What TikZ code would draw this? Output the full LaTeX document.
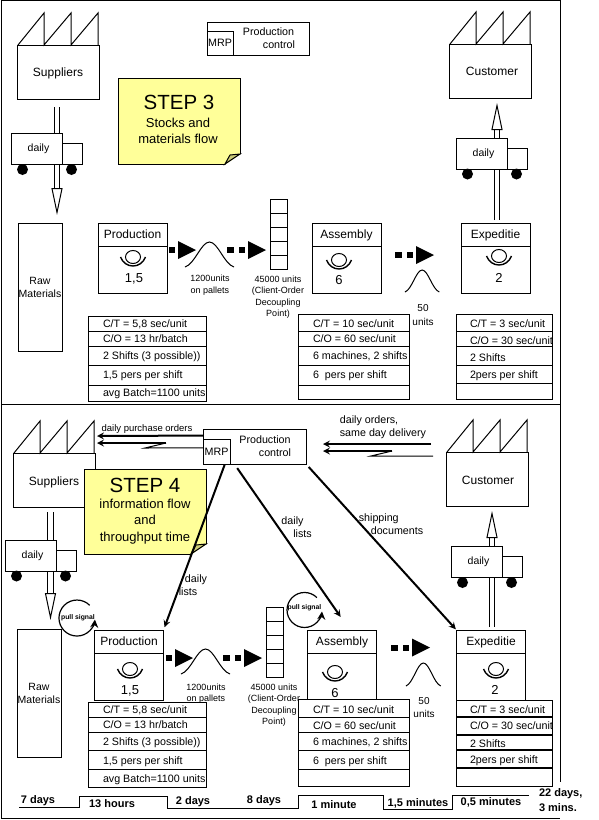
\documentclass[tikz,border=0pt]{standalone}
\usepackage{fontspec}
\setmainfont{Liberation Sans}
\usetikzlibrary{arrows.meta}
\definecolor{noteyellow}{HTML}{FFFF99}
\definecolor{notefoldc}{HTML}{CCCC77}
\begin{document}
\begin{tikzpicture}[x=1pt,y=-1pt,line width=1pt,>=stealth,
  every node/.style={inner sep=0pt,outer sep=0pt,font=\fontsize{12}{14}\selectfont},
  boxname/.style={text height=11pt,text depth=2.5pt},
  factorybox/.style={draw,fill=white,minimum width=82pt,minimum height=54pt},
  rawbox/.style={draw,fill=white,minimum width=44pt,minimum height=128pt,align=center,font=\fontsize{10.5}{13}\selectfont},
  truckbox/.style={draw,fill=white,minimum width=51pt,minimum height=31pt,font=\fontsize{10.5}{13}\selectfont,execute at begin node=\hspace*{3pt}},
  proctitle/.style={draw,fill=white,boxname,minimum width=69pt,minimum height=23pt},
  procbody/.style={draw,fill=white,minimum width=69pt,minimum height=47pt},
  procnum/.style={font=\fontsize{13}{15}\selectfont},
  smalltext/.style={align=center,font=\fontsize{9}{11.5}\selectfont},
  rowtext/.style={anchor=west,text height=10.5pt,text depth=2.5pt,font=\fontsize{10.7}{13}\selectfont},
  mrptext/.style={font=\fontsize{10.7}{13}\selectfont},
  notebox/.style={draw,fill=noteyellow},
  steptitle/.style={font=\fontsize{20.5}{24}\selectfont},
  steptext/.style={align=center,font=\fontsize{13}{16.3}\selectfont},
  flowtext/.style={align=left,font=\fontsize{10.7}{13}\selectfont},
  timetext/.style={font=\fontsize{11}{14}\selectfont\bfseries},
  pulltext/.style={font=\fontsize{6.8}{8}\selectfont\bfseries},
  hollow/.style={double,double distance=4.5pt,line width=1pt,-{Triangle[fill=white,line width=1pt,length=27pt,width=11pt]}},
  infoline/.style={->,line width=2pt},
  pullarrow/.style={-{Stealth[length=8pt,width=8pt]},line width=1.2pt},
  roof/.pic={\draw (1,0)--(27,-32)--(27,0)--(54,-32)--(54,0)--(81,-32)--(81,0);},
  truckcab/.pic={
    \draw[fill=white] (0,-21) rectangle (20,0);
    \fill (-40,5) circle (5.5);
    \fill (9,5) circle (5.5);},
  operator/.pic={
    \draw (0,0) ellipse (7.5 and 6.5);
    \draw[line width=1.4pt] (-12.5,0) .. controls (-8,12) and (8,12) .. (12.5,0);},
  stockcol/.pic={
    \draw[fill=white] (0,0) rectangle (17,70);
    \draw (0,14)--(17,14) (0,28)--(17,28) (0,42)--(17,42) (0,56)--(17,56);},
  pushone/.pic={
    \fill (-9,-3) rectangle (-3,3);
    \fill (0,-9)--(18,0)--(0,9)--cycle;},
  pushtwo/.pic={
    \fill (-21,-3) rectangle (-14,3);
    \fill (-9,-3) rectangle (-3,3);
    \fill (0,-9)--(18,0)--(0,9)--cycle;},
  bell/.pic={\draw (0,0) .. controls (10,-3) and (16,-25) .. (24.5,-25) .. controls (33,-25) and (39,-3) .. (49,0);},
  notefold/.pic={
    \fill[white] (-15,1)--(1,-10)--(1,1)--cycle;
    \draw[fill=notefoldc] (-15,0)--(0,-10)--(-10,-9)--cycle;},
]
\useasboundingbox (0,0) rectangle (598,820);
% frame
\draw (1,818)--(1,0.5)--(560,0.5)--(560,782);
\draw (1,404.5)--(560,404.5);
\draw (1,818)--(560,818);

% step 3
\node[factorybox,boxname] (suppliers1) at (58,72) {Suppliers};
\pic at (suppliers1.north west) {roof};
\node[factorybox] (customer1) at (490,71) {};
\pic at (customer1.north west) {roof};
\node at (492,71) (customername1) {Customer};
\draw[fill=white] (207,22) rectangle (309,55);
\node[draw,minimum width=26pt,minimum height=24pt,mrptext] (mrp1) at (220,43) {MRP};
\node[mrptext] (pc1) at (268.5,32) {Production};
\node[mrptext] (ctl1) at (279,45) {control};
\node[notebox,minimum width=122pt,minimum height=86pt] (note1) at (179,121) {};
\pic at (note1.south east) {notefold};
\node[steptitle] (title1) at (179,102) {STEP 3};
\node[steptext] (text1) at (178,131) {Stocks and\\materials flow};

\coordinate (truckin1) at (57,107);
\coordinate (truckout1) at (57,215);
\draw[hollow] (truckin1)--(truckout1);
\node[truckbox] (truck1) at (37,149) {daily};
\pic at (truck1.south east) {truckcab};
\coordinate (shipin1) at (497,220);
\coordinate (shipout1) at (497,103);
\draw[hollow] (shipin1)--(shipout1);
\node[truckbox] (truck2) at (482,153.5) {daily};
\pic at (truck2.south east) {truckcab};

\node[rawbox] (raw1) at (40,287) {Raw\\Materials};
\node[proctitle] (prod1) at (132.5,234.5) {Production};
\node[procbody] (prodb1) at (132.5,269.5) {};
\pic at (133,257) {operator};
\node[procnum] (prodn1) at (134,279) {1,5};
\pic at (178,250) {pushone};
\pic at (185,267) {bell};
\node[smalltext] (pal1) at (210,285) {1200units\\on pallets};
\pic at (248,250) {pushtwo};
\pic at (270,199) {stockcol};
\node[smalltext] (dec1) at (278,297) {45000 units\\(Client-Order\\Decoupling\\Point)};
\node[proctitle] (asm1) at (346.5,234.5) {Assembly};
\node[procbody] (asmb1) at (346.5,269.5) {};
\pic at (339,260) {operator};
\node[procnum] (asmn1) at (339,280) {6};
\pic at (416,255) {pushtwo};
\pic[xscale=.7,yscale=.88] at (405,292) {bell};
\node[smalltext,font=\fontsize{10}{14}\selectfont] (units1) at (423,315) {50\\units};
\node[proctitle] (exp1) at (495.5,234.5) {Expeditie};
\node[procbody] (expb1) at (495.5,269.5) {};
\pic at (499,256) {operator};
\node[procnum] (expn1) at (499,278) {2};

\draw[fill=white] (88,316) rectangle (206,401) (88,331)--(206,331) (88,346)--(206,346) (88,365)--(206,365) (88,385)--(206,385);
\node[rowtext] (ct1) at (103,323) {C/T = 5,8 sec/unit};
\node[rowtext] (co1) at (103,338) {C/O = 13 hr/batch};
\node[rowtext] (sh1) at (103,355) {2 Shifts (3 possible))};
\node[rowtext] (pe1) at (103,374) {1,5 pers per shift};
\node[rowtext] (ba1) at (103,392) {avg Batch=1100 units};
\draw[fill=white] (298,314) rectangle (409,399) (298,331)--(409,331) (298,346)--(409,346) (298,365)--(409,365) (298,385)--(409,385);
\node[rowtext] (ct2) at (313,323) {C/T = 10 sec/unit};
\node[rowtext] (co2) at (313,338) {C/O = 60 sec/unit};
\node[rowtext] (sh2) at (313,355) {6 machines, 2 shifts};
\node[rowtext] (pe2) at (313,374) {6~~pers per shift};
\draw[fill=white] (456,314) rectangle (552,399) (456,331)--(552,331) (456,346)--(552,346) (456,365)--(552,365) (456,383)--(552,383);
\node[rowtext] (ct3) at (470,323) {C/T = 3 sec/unit};
\node[rowtext] (co3) at (470,340) {C/O = 30 sec/unit};
\node[rowtext] (sh3) at (470,357) {2 Shifts};
\node[rowtext] (pe3) at (470,374) {2pers per shift};

% step 4
\node[factorybox] (suppliers2) at (54,480) {};
\pic at (suppliers2.north west) {roof};
\node[boxname] (suppliername2) at (54,481) {Suppliers};
\node[factorybox] (customer2) at (487,479) {};
\pic at (customer2.north west) {roof};
\node (customername2) at (488,480) {Customer};
\node[draw,fill=white,minimum width=103pt,minimum height=35pt] (pc2) at (254.5,446.5) {};
\node[draw,minimum width=27pt,minimum height=25pt,mrptext] (mrp2) at (216.5,451.5) {MRP};
\node[mrptext] (pcname2) at (265,440) {Production};
\node[mrptext] (ctl2) at (275,453) {control};
\node[notebox,minimum width=122pt,minimum height=85pt] (note2) at (145,511.5) {};
\pic at (note2.south east) {notefold};
\node[steptitle] (title2) at (145,485) {STEP 4};
\node[steptext] (text2) at (145,521.5) {information flow\\and\\throughput time};

\coordinate (orderout1) at (97,436);
\coordinate (orderend2) at (97,443);
\coordinate (orderstart2) at (166,443);
\coordinate (orderkink1) at (145,448);
\draw[infoline] (pc2.168)--(orderout1);
\draw[infoline] (orderstart2)--(orderend2);
\draw (mrp2.165)--(orderkink1)--(orderstart2);
\node[font=\fontsize{9.5}{12}\selectfont] (purchase) at (147,429) {daily purchase orders};
\coordinate (custa) at (431,444);
\coordinate (custb) at (323,444);
\coordinate (custc) at (392,451);
\coordinate (custd) at (323,451);
\coordinate (custe) at (433,456);
\coordinate (custf) at (371,456);
\draw[infoline] (custa)--(custb);
\draw[infoline] (custc)--(custd);
\draw (custe)--(custf)--(custc);
\node[flowtext] (orders) at (383,427.5) {daily orders,\\same day delivery};

\coordinate (truckin3) at (50.5,512);
\coordinate (truckout3) at (50.5,620);
\draw[hollow] (truckin3)--(truckout3);
\node[truckbox] (truck3) at (31,555.5) {daily};
\pic at (truck3.south east) {truckcab};
\coordinate (shipin2) at (492,627);
\coordinate (shipout2) at (492,511);
\draw[hollow] (shipin2)--(shipout2);
\node[truckbox] (truck4) at (477,562) {daily};
\pic at (truck4.south east) {truckcab};

\node[rawbox] (raw2) at (39,693) {Raw\\Materials};
\node[proctitle] (prod2) at (129,641.5) {Production};
\node[procbody] (prodb2) at (129,677) {};
\pic at (130,669) {operator};
\node[procnum] (prodn2) at (130,691) {1,5};
\pic at (175,658) {pushone};
\pic at (181,674) {bell};
\node[smalltext] (pal2) at (206,693.5) {1200units\\on pallets};
\pic at (244,658) {pushtwo};
\pic at (266,607) {stockcol};
\node[smalltext] (dec2) at (274,705) {45000 units\\(Client-Order\\Decoupling\\Point)};
\node[proctitle] (asm2) at (342,641.5) {Assembly};
\node[procbody] (asmb2) at (342,677) {};
\pic at (335,672) {operator};
\node[procnum] (asmn2) at (335,693) {6};
\pic at (412,647.5) {pushtwo};
\pic[xscale=.71,yscale=.92] at (406,686) {bell};
\node[smalltext,font=\fontsize{10}{13}\selectfont] (units2) at (424,707.5) {50\\units};
\node[proctitle] (exp2) at (491,641.5) {Expeditie};
\node[procbody] (expb2) at (491,677) {};
\pic at (496,669) {operator};
\node[procnum] (expn2) at (495,690) {2};

\draw[fill=white] (88,702) rectangle (206,787) (88,717)--(206,717) (88,732)--(206,732) (88,750)--(206,750) (88,769)--(206,769);
\node[rowtext] (ct4) at (103,709) {C/T = 5,8 sec/unit};
\node[rowtext] (co4) at (103,724) {C/O = 13 hr/batch};
\node[rowtext] (sh4) at (103,741) {2 Shifts (3 possible))};
\node[rowtext] (pe4) at (103,760) {1,5 pers per shift};
\node[rowtext] (ba4) at (103,778) {avg Batch=1100 units};
\draw[fill=white] (298,699) rectangle (409,786) (298,717)--(409,717) (298,732)--(409,732) (298,750)--(409,750) (298,769)--(409,769);
\node[rowtext] (ct5) at (313,709) {C/T = 10 sec/unit};
\node[rowtext] (co5) at (313,725) {C/O = 60 sec/unit};
\node[rowtext] (sh5) at (313,741) {6 machines, 2 shifts};
\node[rowtext] (pe5) at (313,760) {6~~pers per shift};
\draw[fill=white] (456,700) rectangle (552,786);
\draw[line width=1.6pt] (456,717)--(552,717) (456,735)--(552,735) (456,750)--(552,750) (456,768)--(552,768);
\node[rowtext] (ct6) at (470,709) {C/T = 3 sec/unit};
\node[rowtext] (co6) at (470,725) {C/O = 30 sec/unit};
\node[rowtext] (sh6) at (470,743) {2 Shifts};
\node[rowtext] (pe6) at (470,759) {2pers per shift};

\draw[infoline,shorten <=1pt,shorten >=3pt] (mrp2.-56)--(prod2.north east);
\draw[infoline,shorten <=5pt,shorten >=16pt] (pc2.-139.5)--(asm2.56);
\draw[infoline,shorten <=4pt,shorten >=1pt] (pc2.south east)--(exp2.north west);
\node[flowtext,align=center] (lists1) at (188,585.5) {\hspace*{16pt}daily\\lists};
\node[flowtext,align=center] (lists2) at (292.5,527) {daily\\\hspace*{20pt}lists};
\node[flowtext] (docs) at (391,524.5) {shipping\\\hspace*{12pt}documents};

\node[pulltext] (pull1) at (78,618) {pull signal};
\draw[pullarrow] (89.7,605.3) arc[start angle=-45,end angle=-355,radius=18];
\node[pulltext] (pull2) at (304.5,608) {pull signal};
\draw[pullarrow] (316.9,597.6) arc[start angle=-45,end angle=-355,radius=17.5];

% time line
\draw (19,807)--(79,807)--(79,796)--(167,796)--(167,808)--(298,808)--(298,795)--(383,795)--(383,809)--(452,809)--(452,795)--(529,795);
\node[timetext] (t1) at (38,801) {7 days};
\node[timetext] (t2) at (112,804) {13 hours};
\node[timetext] (t3) at (193,802) {2 days};
\node[timetext] (t4) at (264,801) {8 days};
\node[timetext] (t5) at (334,805) {1 minute};
\node[timetext] (t6) at (418,803) {1,5 minutes};
\node[timetext] (t7) at (491,802) {0,5 minutes};
\node[timetext,anchor=west] (t8) at (539,794) {22 days,};
\node[timetext,anchor=west] (t9) at (539,808) {3 mins.};
\end{tikzpicture}
\end{document}
